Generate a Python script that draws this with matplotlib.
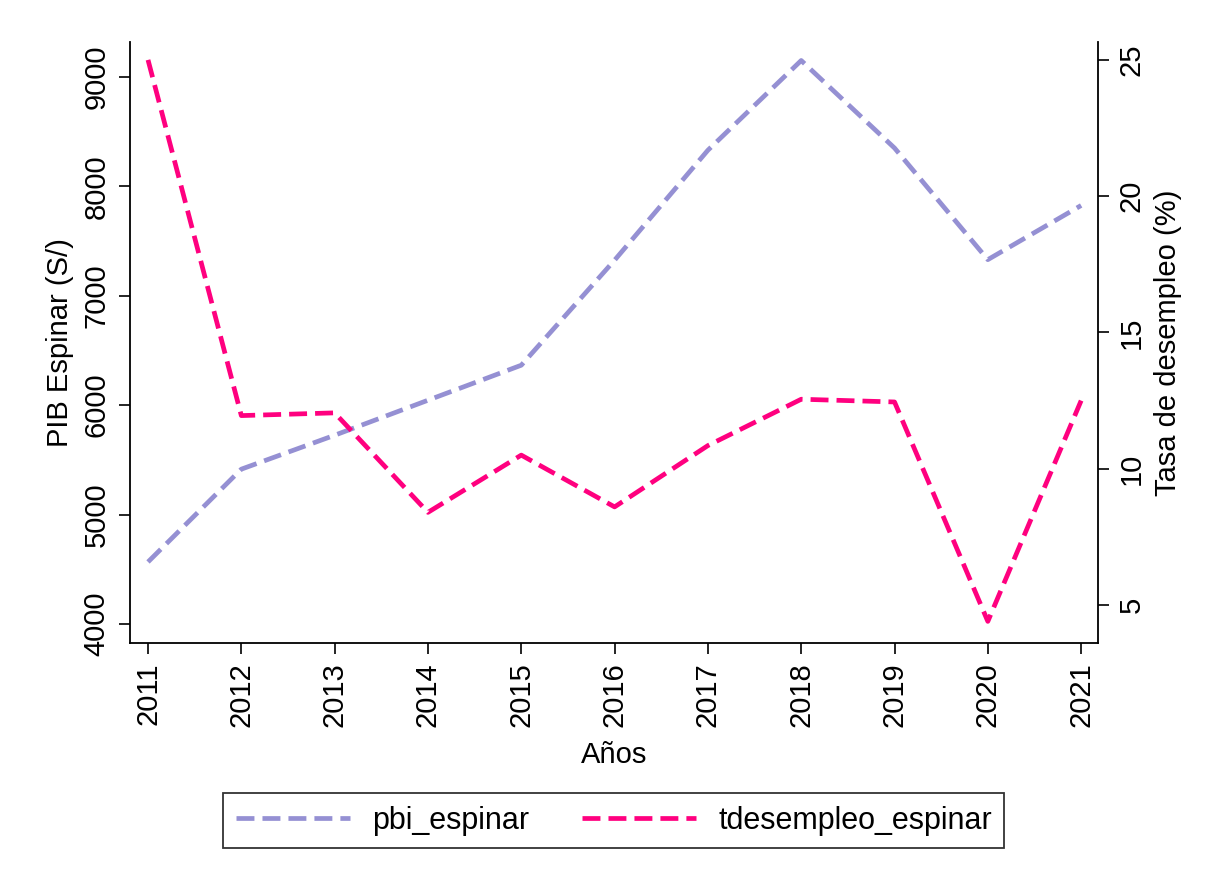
import matplotlib.pyplot as plt

plt.rcParams['font.family'] = ['Liberation Sans', 'DejaVu Sans']

# Data
years = [2011, 2012, 2013, 2014, 2015, 2016, 2017, 2018, 2019, 2020, 2021]
pbi_espinar = [4567, 5415, 5725, 6045, 6365, 7325, 8330, 9150, 8350, 7330, 7825]
tdesempleo_espinar = [25.0, 11.95, 12.05, 8.4, 10.5, 8.6, 10.85, 12.55, 12.45, 4.4, 12.5]

left_ticks = [4000, 5000, 6000, 7000, 8000, 9000]
right_ticks = [5, 10, 15, 20, 25]

purple = '#9590D3'
pink = '#FF007F'
fs = 21

fig = plt.figure(figsize=(12.06, 8.84), dpi=100)
ax = fig.add_axes([0.1078, 0.2726, 0.8026, 0.68])
ax2 = ax.twinx()

l1, = ax.plot(years, pbi_espinar, color=purple, lw=3.4, dashes=(3.8, 1.7),
              label='pbi_espinar')
l2, = ax2.plot(years, tdesempleo_espinar, color=pink, lw=3.4, dashes=(3.8, 1.7),
               label='tdesempleo_espinar')

ax.set_xlim(2010.807, 2021.18)
ax.set_ylim(3826, 9320)
ax2.set_ylim(3.606, 25.66)

ax.set_xticks(years)
ax.set_xticklabels([str(y) for y in years], rotation=90, fontsize=fs)
ax.set_yticks(left_ticks)
ax.set_yticklabels([str(t) for t in left_ticks], rotation=90, va='center', fontsize=fs)
ax2.set_yticks(right_ticks)
ax2.set_yticklabels([str(t) for t in right_ticks], rotation=90, va='center', fontsize=fs)

for a in (ax, ax2):
    a.tick_params(length=8, width=1.2, pad=6)
    a.spines['top'].set_visible(False)
    for s in a.spines.values():
        s.set_linewidth(1.3)
ax.spines['right'].set_visible(False)
ax2.spines['left'].set_visible(False)
ax2.spines['bottom'].set_visible(False)

ax.set_xlabel('Años', fontsize=fs, labelpad=10)
ax.set_ylabel('PIB Espinar (S/)', fontsize=fs, labelpad=6)
ax2.set_ylabel('Tasa de desempleo (%)', fontsize=fs, labelpad=6)

leg = fig.legend(handles=[l1, l2], loc='center', bbox_to_anchor=(0.509, 0.0718),
                 ncol=2, fontsize=22, frameon=True, fancybox=False,
                 handlelength=3.73, columnspacing=1.75, borderpad=0.4,
                 handletextpad=0.72)
leg.get_frame().set_edgecolor('black')
leg.get_frame().set_linewidth(1.3)

fig.savefig('out.png', dpi=100)
